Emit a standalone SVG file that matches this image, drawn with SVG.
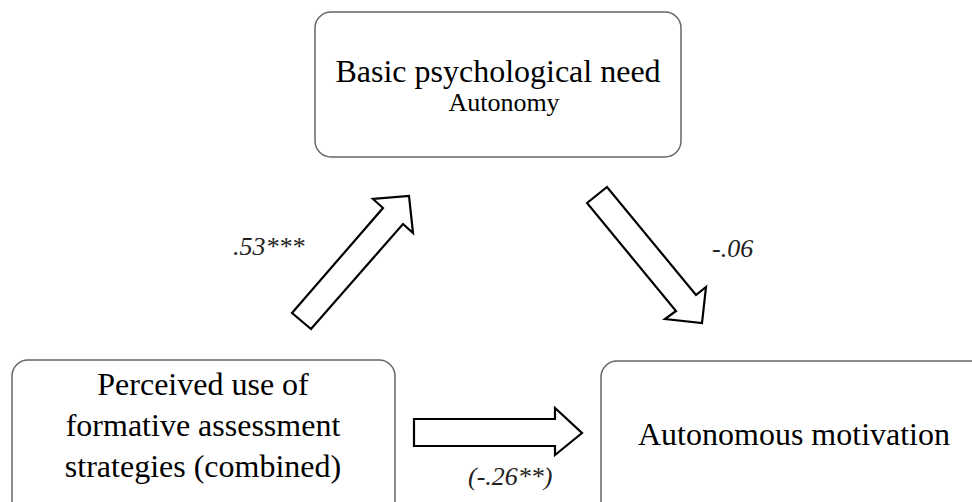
<svg xmlns="http://www.w3.org/2000/svg" width="972" height="502" viewBox="0 0 972 502">
<style>
.box{fill:#fff;stroke:#666;stroke-width:1.5}
.arr{fill:#fff;stroke:#000;stroke-width:2.2;stroke-linejoin:miter}
.t{fill:#000;text-anchor:middle}
.lbl{font-style:italic;fill:#222;font-size:26px}
</style>
<rect width="972" height="502" fill="#fff"/>
<g id="need">
<rect class="box" x="315" y="12" width="366" height="145" rx="16"/>
<text class="t" x="498" y="82" font-size="32" font-family="'Liberation Serif', 'Times New Roman', 'DejaVu Serif', serif">Basic psychological need</text>
<text class="t" x="504" y="111" font-size="26" font-family="'Liberation Serif', 'Times New Roman', 'DejaVu Serif', serif">Autonomy</text>
</g>
<g id="formative">
<rect class="box" x="12" y="360" width="383" height="160" rx="16"/>
<text class="t" x="203" y="395" font-size="32" font-family="'Liberation Serif', 'Times New Roman', 'DejaVu Serif', serif">Perceived use of</text>
<text class="t" x="203" y="436" font-size="32" font-family="'Liberation Serif', 'Times New Roman', 'DejaVu Serif', serif">formative assessment</text>
<text class="t" x="203" y="477" font-size="32" font-family="'Liberation Serif', 'Times New Roman', 'DejaVu Serif', serif">strategies (combined)</text>
</g>
<g id="motivation">
<rect class="box" x="601" y="361" width="386" height="160" rx="16"/>
<text class="t" x="794" y="445" font-size="32" font-family="'Liberation Serif', 'Times New Roman', 'DejaVu Serif', serif">Autonomous motivation</text>
</g>
<g id="connectors">
<polygon class="arr" points="292,313 383,208 373,199 409,196 413,233 403,224 311,329"/>
<polygon class="arr" points="587,203 607,187 696,295 706,287 702,323 665,319 676,311"/>
<polygon class="arr" points="414,419 555,419 555,408 582,433 555,455 555,446 414,446"/>
<text class="lbl" x="233" y="255" font-family="'Liberation Serif', 'Times New Roman', 'DejaVu Serif', serif">.53***</text>
<text class="lbl" x="712" y="257" font-family="'Liberation Serif', 'Times New Roman', 'DejaVu Serif', serif">-.06</text>
<text class="lbl" x="468" y="485" font-family="'Liberation Serif', 'Times New Roman', 'DejaVu Serif', serif">(-.26**)</text>
</g>
</svg>
